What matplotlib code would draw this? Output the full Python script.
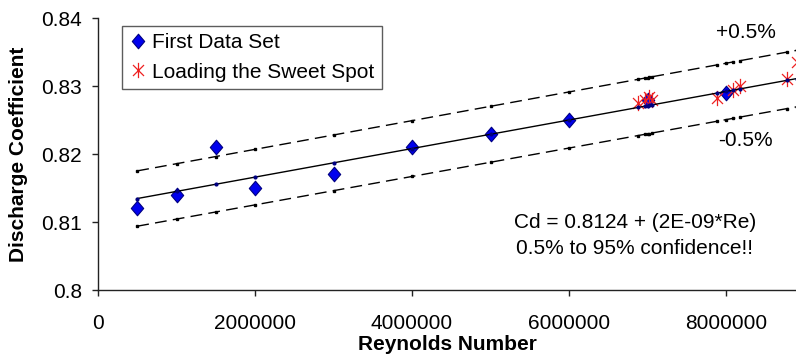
import numpy as np
import matplotlib
matplotlib.use("Agg")
import matplotlib.pyplot as plt
from matplotlib.path import Path
from matplotlib.ticker import FixedLocator, FuncFormatter

# Measured discharge coefficients
reynolds_first = [500000, 1000000, 1500000, 2000000, 3000000,
                  4000000, 5000000, 6000000, 7000000, 8000000]
cd_first = [0.812, 0.814, 0.821, 0.815, 0.817,
            0.821, 0.823, 0.825, 0.828, 0.829]

reynolds_sweet = [6880000, 6970000, 7020000, 7060000, 7880000,
                  8090000, 8180000, 8780000, 8900000]
cd_sweet = [0.8275, 0.8280, 0.8284, 0.8279, 0.8282,
            0.8294, 0.8300, 0.8311, 0.8335]

# Linear fit and its confidence band
fit_intercept = 0.8124
fit_slope = 2.1e-9
band = 0.005

x_ticks = [0, 2000000, 4000000, 6000000, 8000000]
y_ticks = [0.80, 0.81, 0.82, 0.83, 0.84]

plt.rcParams["font.family"] = ["Liberation Sans", "DejaVu Sans"]

W, H = 796, 360
fig = plt.figure(figsize=(W / 100, H / 100), dpi=100)
left, right, top, bottom = 98, 796, 18, 290
ax = fig.add_axes([left / W, 1 - bottom / H, (right - left) / W, (bottom - top) / H])

# Marker shapes: slightly tall diamond and an Excel-style star
diamond = Path([(0, 1), (0.85, 0), (0, -1), (-0.85, 0), (0, 1)],
               [Path.MOVETO, Path.LINETO, Path.LINETO, Path.LINETO, Path.CLOSEPOLY])
star = Path([(0, -1), (0, 1), (-0.72, -0.72), (0.72, 0.72), (-0.72, 0.72), (0.72, -0.72)],
            [Path.MOVETO, Path.LINETO, Path.MOVETO, Path.LINETO, Path.MOVETO, Path.LINETO])

ax.plot(reynolds_first, cd_first, linestyle="none", marker=diamond, markersize=10.5,
        markerfacecolor="#0000EE", markeredgecolor="#000080", markeredgewidth=0.8,
        label="First Data Set", zorder=3)
ax.plot(reynolds_sweet, cd_sweet, linestyle="none", marker=star, markersize=11,
        markerfacecolor="none", markeredgecolor="#EE2020", markeredgewidth=0.9,
        label="Loading the Sweet Spot", zorder=4)

# Fit line and +/- band, evaluated at every measured Reynolds number
line_x = np.array(sorted(set(reynolds_first) | set(reynolds_sweet)), dtype=float)
fit = fit_intercept + fit_slope * line_x
ax.plot(line_x, fit, color="black", lw=1.0, marker="o", markersize=2.0,
        markerfacecolor="#000080", markeredgecolor="#000080", zorder=5)
for sign in (1, -1):
    ax.plot(line_x, fit * (1 + sign * band), color="black", lw=1.0,
            dashes=(8.5, 4.5), marker="s", markersize=1.8,
            markerfacecolor="black", markeredgecolor="black", zorder=5)

ax.set_xlim(0, (right - left) / 157 * 2000000)
ax.set_ylim(0.80, 0.84)
ax.xaxis.set_major_locator(FixedLocator(x_ticks))
ax.yaxis.set_major_locator(FixedLocator(y_ticks))
ax.xaxis.set_major_formatter(FuncFormatter(lambda v, p: f"{v:.0f}"))
ax.yaxis.set_major_formatter(FuncFormatter(lambda v, p: f"{v:g}"))

for side in ("top", "right"):
    ax.spines[side].set_visible(False)
for side in ("left", "bottom"):
    ax.spines[side].set_color("#222222")
    ax.spines[side].set_linewidth(1.0)

ax.tick_params(axis="both", direction="out", length=4.5, width=1.0,
               colors="#222222", labelcolor="black", labelsize=15)
ax.tick_params(axis="y", pad=7)
ax.tick_params(axis="x", pad=13)

ax.set_xlabel("Reynolds Number", fontsize=15, fontweight="bold")
ax.set_ylabel("Discharge Coefficient", fontsize=15, fontweight="bold")
ax.xaxis.set_label_coords(0.5, -(335 - bottom) / (bottom - top))
ax.yaxis.set_label_coords(-(left - 28) / (right - left), 0.5)

leg = ax.legend(loc="upper left", bbox_to_anchor=(122 / W, 1 - 26 / H),
                bbox_transform=fig.transFigure, borderaxespad=0, fontsize=15,
                frameon=True, fancybox=False, edgecolor="#333333",
                handlelength=0.8, handletextpad=0.3, borderpad=0.35,
                labelspacing=0.5, numpoints=1)
leg.get_frame().set_linewidth(1.0)

def px(xp, yp):
    return ((xp - left) / (right - left), (bottom - yp) / (bottom - top))

ax.text(*px(746, 33), f"+{band * 100:g}%", transform=ax.transAxes,
        ha="center", va="center", fontsize=15)
ax.text(*px(745, 140), f"-{band * 100:g}%", transform=ax.transAxes,
        ha="center", va="center", fontsize=15)
ax.text(*px(635, 222), f"Cd = {fit_intercept} + ({fit_slope:.0E}*Re)",
        transform=ax.transAxes, ha="center", va="center", fontsize=15)
ax.text(*px(634, 249), f"{band * 100:g}% to 95% confidence!!",
        transform=ax.transAxes, ha="center", va="center", fontsize=15)

fig.savefig("out.png", dpi=100)
